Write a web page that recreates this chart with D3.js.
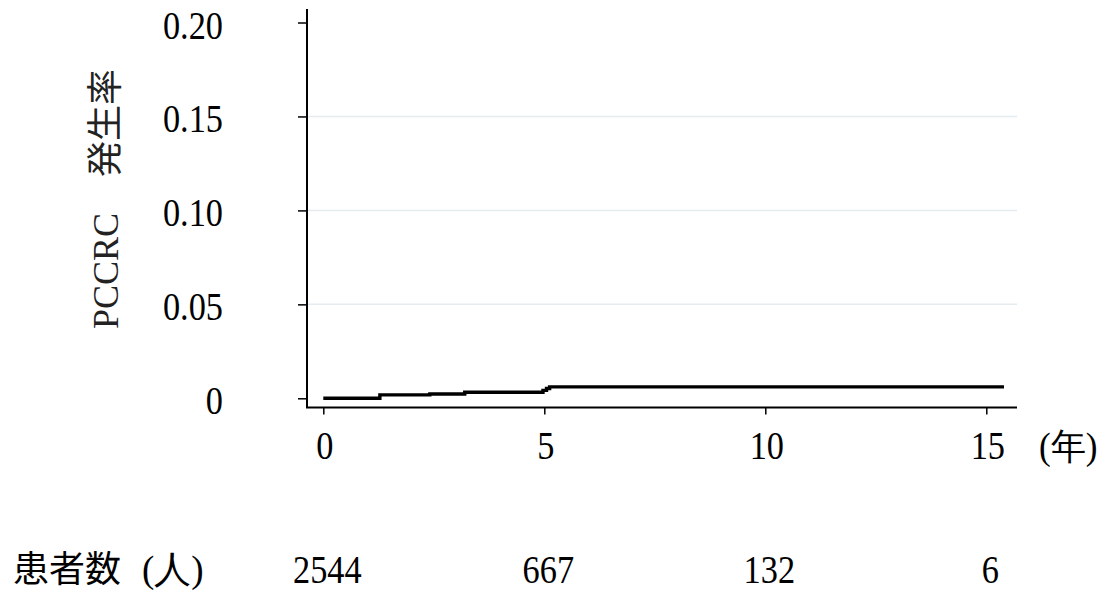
<!DOCTYPE html>
<html>
<head>
<meta charset="utf-8">
<script src="https://cdn.jsdelivr.net/npm/d3@7"></script>
<style>
  html, body { margin: 0; padding: 0; background: #fff; }
  svg { display: block; }
  .serif { font-family: "Liberation Serif", "DejaVu Serif", serif; }
  .cjk { font-family: "Noto Sans CJK JP", "Noto Sans", sans-serif; }
</style>
</head>
<body>
<svg id="chart" width="1111" height="593"></svg>
<script>
// ---- data ----
const stepTimes  = [0, 1.28, 2.41, 3.2, 4.97, 5.05, 5.12, 15.4];
const stepValues = [0, 0.0018, 0.0023, 0.0032, 0.0042, 0.0052, 0.0061, 0.0061];
const xTicks = [0, 5, 10, 15];
const yTicks = [0, 0.05, 0.10, 0.15, 0.20];
const yTickLabels = ["0", "0.05", "0.10", "0.15", "0.20"];
const atRiskTimes = [0, 5, 10, 15];
const atRiskCounts = [2544, 667, 132, 6];

const svg = d3.select("#chart");
const x = d3.scaleLinear().domain([0, 15]).range([323.3, 986.3]);
const y = d3.scaleLinear().domain([0, 0.20]).range([398.3, 22.5]);

const axisX = 307, axisY = 407.5;
const FS = 39, SQ = 0.88;   // condensed serif look

// grid lines
svg.append("g").selectAll("line")
  .data(yTicks.filter(v => v > 0 && v < 0.2))
  .join("line")
  .attr("x1", axisX).attr("x2", 1017)
  .attr("y1", d => y(d)).attr("y2", d => y(d))
  .attr("stroke", "#e4ecef").attr("stroke-width", 1.5);

// y axis
const yAxis = d3.axisLeft(y).tickValues(yTicks).tickSize(9).tickFormat((d, i) => yTickLabels[i]);
const gy = svg.append("g").attr("transform", `translate(${axisX},0)`).call(yAxis);
gy.select(".domain").remove();
gy.selectAll(".tick line").attr("stroke", "#000").attr("stroke-width", 1.5);
gy.selectAll(".tick text")
  .attr("class", "serif")
  .attr("x", 0).attr("y", 0).attr("dy", null)
  .attr("transform", `translate(-84,15.5) scale(${SQ},1)`)
  .attr("font-size", FS)
  .attr("fill", "#000")
  .attr("text-anchor", "end");
svg.append("line")
  .attr("x1", axisX).attr("x2", axisX).attr("y1", 9).attr("y2", axisY)
  .attr("stroke", "#000").attr("stroke-width", 2);

// x axis
const xAxis = d3.axisBottom(x).tickValues(xTicks).tickSize(7).tickFormat(d3.format("d"));
const gx = svg.append("g").attr("transform", `translate(0,${axisY})`).call(xAxis);
gx.select(".domain").remove();
gx.selectAll(".tick line").attr("stroke", "#000").attr("stroke-width", 1.5);
gx.selectAll(".tick text")
  .attr("class", "serif")
  .attr("x", 0).attr("y", 0).attr("dy", null)
  .attr("transform", `translate(1,51.5) scale(${SQ},1)`)
  .attr("font-size", FS)
  .attr("fill", "#000");
svg.append("line")
  .attr("x1", axisX - 1).attr("x2", 1017).attr("y1", axisY).attr("y2", axisY)
  .attr("stroke", "#000").attr("stroke-width", 2);

// (年)
svg.append("text").attr("class", "serif")
  .attr("transform", `translate(1039,459) scale(0.95,1)`)
  .attr("font-size", 37).attr("fill", "#000")
  .text("(年)");

// step line
const pts = stepTimes.map((t, i) => [t, stepValues[i]]);
const line = d3.line().x(d => x(d[0])).y(d => y(d[1])).curve(d3.curveStepAfter);
svg.append("path").datum(pts)
  .attr("d", line)
  .attr("fill", "none").attr("stroke", "#000").attr("stroke-width", 3.4);

// y title
svg.append("text")
  .attr("transform", "translate(118,199) rotate(-90)")
  .attr("text-anchor", "middle")
  .attr("font-size", 36).attr("fill", "#222")
  .call(t => {
    t.append("tspan").attr("class", "serif").text("PCCRC");
    t.append("tspan").attr("class", "cjk").text("\u3000発生率");
  });

// at-risk row
svg.append("text").attr("class", "cjk")
  .attr("x", 13).attr("y", 582).attr("font-size", 36).attr("fill", "#000")
  .text("患者数");
svg.append("text").attr("class", "serif")
  .attr("x", 142).attr("y", 582).attr("font-size", 37).attr("fill", "#000")
  .text("(人)");
svg.append("g").selectAll("text")
  .data(atRiskCounts)
  .join("text")
  .attr("class", "serif")
  .attr("transform", (d, i) => `translate(${x(atRiskTimes[i]) + 4},583) scale(${SQ},1)`)
  .attr("text-anchor", "middle")
  .attr("font-size", FS)
  .attr("fill", "#000")
  .text(d => d);
</script>
</body>
</html>
